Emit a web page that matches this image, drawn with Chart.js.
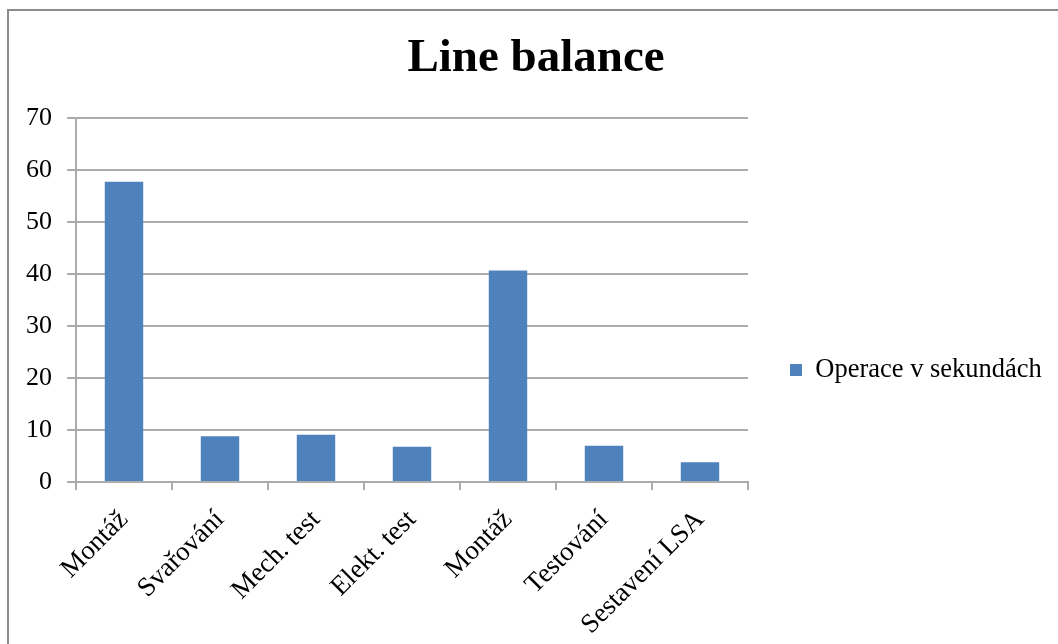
<!DOCTYPE html>
<html lang="cs">
<head>
    <meta charset="UTF-8">
    <title>Line balance</title>
    <script src="https://cdn.jsdelivr.net/npm/chart.js"></script>
    <style>
        html, body {
            margin: 0;
            padding: 0;
            background: #fff;
            overflow: hidden;
        }
        #frame {
            position: absolute;
            left: 7px;
            top: 9px;
            width: 1200px;
            height: 800px;
            border: 2px solid #8c8c8c;
        }
        #lineChart {
            position: absolute;
            left: 0;
            top: 0;
        }
    </style>
</head>
<body>
    <div id="frame"></div>
    <canvas id="lineChart" width="1058" height="644"></canvas>
    <script>
    // operace na lince a jejich čas v sekundách
    const operace = ['Montáž', 'Svařování', 'Mech. test', 'Elekt. test', 'Montáž', 'Testování', 'Sestavení LSA'];
    const casy = [57.8, 8.8, 9.1, 6.8, 40.7, 7.0, 3.8];
    const osaY = [0, 10, 20, 30, 40, 50, 60, 70];

    const serif = "'Liberation Serif', 'Times New Roman', serif";
    const gridColor = '#ababab';

    // legenda vpravo má pevnou šířku (layout ji jinak omezí na čtvrtinu plátna)
    const legendWidthPlugin = {
        id: 'legendWidth',
        beforeLayout: (chart) => {
            const legend = chart.legend;
            if (legend && !legend._fixedWidth) {
                const fit = legend.fit.bind(legend);
                legend.fit = function () {
                    fit();
                    this.width = 310;
                };
                legend._fixedWidth = true;
            }
        }
    };

    var ctx = document.getElementById('lineChart').getContext('2d');
    var lineChart = new Chart(ctx, {
        type: 'bar',
        data: {
            labels: operace,
            datasets: [{
                label: 'Operace v sekundách',
                data: casy,
                backgroundColor: '#4f81bd',
                borderWidth: 0,
                categoryPercentage: 0.8,
                barPercentage: 0.5
            }]
        },
        options: {
            responsive: false,
            animation: false,
            layout: {
                padding: { left: 14, right: 0, top: 0, bottom: 0 }
            },
            plugins: {
                tooltip: { enabled: false },
                title: {
                    display: true,
                    text: 'Line balance',
                    color: '#000',
                    font: { family: serif, size: 47, weight: 'bold' },
                    padding: { top: 31, bottom: 31 }
                },
                legend: {
                    position: 'right',
                    onClick: (e) => e.stopPropagation(),
                    // prázdný titulek posune položku legendy níž
                    title: {
                        display: true,
                        text: ' ',
                        font: { size: 10 },
                        padding: { top: 42, bottom: 42 }
                    },
                    labels: {
                        color: '#000',
                        font: { family: serif, size: 26.5 },
                        boxWidth: 12,
                        boxHeight: 12,
                        padding: 42
                    }
                }
            },
            scales: {
                x: {
                    offset: true,
                    afterFit: (scale) => { scale.height = 162; },
                    border: { color: gridColor, width: 2 },
                    grid: {
                        offset: true,
                        drawOnChartArea: false,
                        drawTicks: true,
                        tickLength: 8,
                        color: gridColor,
                        lineWidth: 2
                    },
                    ticks: {
                        color: '#000',
                        font: { family: serif, size: 27 },
                        minRotation: 45,
                        maxRotation: 45,
                        autoSkip: false,
                        padding: 14
                    }
                },
                y: {
                    min: 0,
                    max: 70,
                    afterFit: (scale) => { scale.width = 62; },
                    afterBuildTicks: (scale) => {
                        scale.ticks = osaY.map(v => ({ value: v }));
                    },
                    border: { color: gridColor, width: 2 },
                    grid: {
                        color: gridColor,
                        lineWidth: 2,
                        drawTicks: true,
                        tickLength: 9
                    },
                    ticks: {
                        color: '#000',
                        font: { family: serif, size: 26 },
                        padding: 15
                    }
                }
            }
        },
        plugins: [legendWidthPlugin]
    });
    </script>
</body>
</html>
